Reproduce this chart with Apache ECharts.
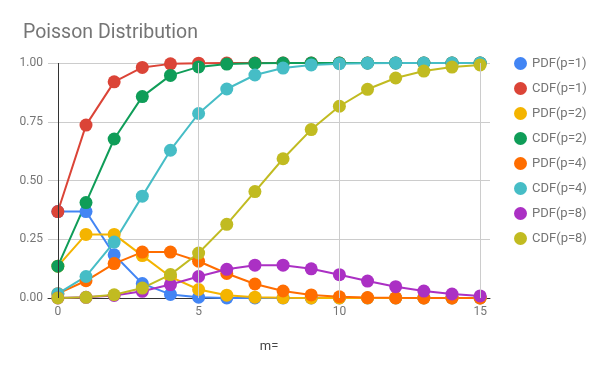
<!DOCTYPE html>
<html><head><meta charset="utf-8">
<script src="https://cdn.jsdelivr.net/npm/echarts@6/dist/echarts.min.js"></script>
<style>html,body{margin:0;padding:0;background:#fff}#c{width:600px;height:371px}</style>
</head><body><div id="c"></div>
<script>
const m = [0,1,2,3,4,5,6,7,8,9,10,11,12,13,14,15];
const xTicks = [0,5,10,15];
const pdf1 = [0.3679,0.3679,0.1839,0.0613,0.0153,0.0031,0.0005,0.0001,0,0,0,0,0,0,0,0];
const cdf1 = [0.3679,0.7358,0.9197,0.9810,0.9963,0.9994,0.9999,1,1,1,1,1,1,1,1,1];
const pdf2 = [0.1353,0.2707,0.2707,0.1804,0.0902,0.0361,0.0120,0.0034,0.0009,0.0002,0,0,0,0,0,0];
const cdf2 = [0.1353,0.4060,0.6767,0.8571,0.9473,0.9834,0.9955,0.9989,0.9998,1,1,1,1,1,1,1];
const pdf4 = [0.0183,0.0733,0.1465,0.1954,0.1954,0.1563,0.1042,0.0595,0.0298,0.0132,0.0053,0.0019,0.0006,0.0002,0.0001,0];
const cdf4 = [0.0183,0.0916,0.2381,0.4335,0.6288,0.7851,0.8893,0.9489,0.9786,0.9919,0.9972,0.9991,0.9997,0.9999,1,1];
const pdf8 = [0.0003,0.0027,0.0107,0.0286,0.0573,0.0916,0.1221,0.1396,0.1396,0.1241,0.0993,0.0722,0.0481,0.0296,0.0169,0.0090];
const cdf8 = [0.0003,0.0030,0.0138,0.0424,0.0996,0.1912,0.3134,0.4530,0.5925,0.7166,0.8159,0.8881,0.9362,0.9658,0.9827,0.9918];

const names = ['PDF(p=1)','CDF(p=1)','PDF(p=2)','CDF(p=2)','PDF(p=4)','CDF(p=4)','PDF(p=8)','CDF(p=8)'];
const colors = ['#4285f4','#db4437','#f4b400','#0f9d58','#ff6d00','#46bdc6','#ab30c4','#c1bb21'];
const values = [pdf1,cdf1,pdf2,cdf2,pdf4,cdf4,pdf8,cdf8];

const series = [{
  type:'line', data:[], silent:true,
  markLine:{silent:true, symbol:'none', label:{show:false}, animation:false,
    data:[
      {xAxis:5, lineStyle:{color:'#cccccc',width:1,type:'solid'}},
      {xAxis:10, lineStyle:{color:'#cccccc',width:1,type:'solid'}},
      {xAxis:15, lineStyle:{color:'#cccccc',width:1,type:'solid'}},
      {xAxis:0, lineStyle:{color:'#333333',width:1,type:'solid'}}
    ]}
}];
names.forEach((n,i)=>{
  series.push({
    name:n, type:'line', color:colors[i],
    data:m.map((x,j)=>[x,values[i][j]]),
    symbol:'circle', symbolSize:13, showSymbol:true,
    lineStyle:{width:2}, itemStyle:{color:colors[i]},
    emphasis:{disabled:true}, animation:false
  });
});

const chart = echarts.init(document.getElementById('c'));
chart.setOption({
  backgroundColor:'#fff',
  animation:false,
  title:{text:'Poisson Distribution', left:18, top:18,
    textStyle:{fontFamily:'Roboto', fontSize:19.5, fontWeight:'normal', color:'#757575'}},
  legend:{data:names, orient:'vertical', left:509, top:52, icon:'circle',
    itemWidth:13, itemHeight:13, itemGap:12,
    textStyle:{fontFamily:'Roboto', fontSize:13, color:'#757575'}},
  grid:{left:48, right:110, top:63, bottom:73, containLabel:false},
  xAxis:{type:'value', min:-0.35, max:15.35, name:'m=', nameLocation:'middle', nameGap:42,
    nameTextStyle:{fontFamily:'Roboto', fontSize:13, color:'#444'},
    axisLine:{show:true, onZero:false, lineStyle:{color:'#333', width:1}},
    axisTick:{show:false}, splitLine:{show:false},
    axisLabel:{customValues:xTicks, fontFamily:'Roboto', fontSize:12, color:'#757575', margin:8}},
  yAxis:{type:'value', min:0, max:1, interval:0.25,
    axisLine:{show:false}, axisTick:{show:false},
    splitLine:{lineStyle:{color:'#cccccc'}},
    axisLabel:{fontFamily:'Roboto', fontSize:12, color:'#757575', margin:5,
      formatter:v=>v.toFixed(2)}},
  series:series
});
</script></body></html>
